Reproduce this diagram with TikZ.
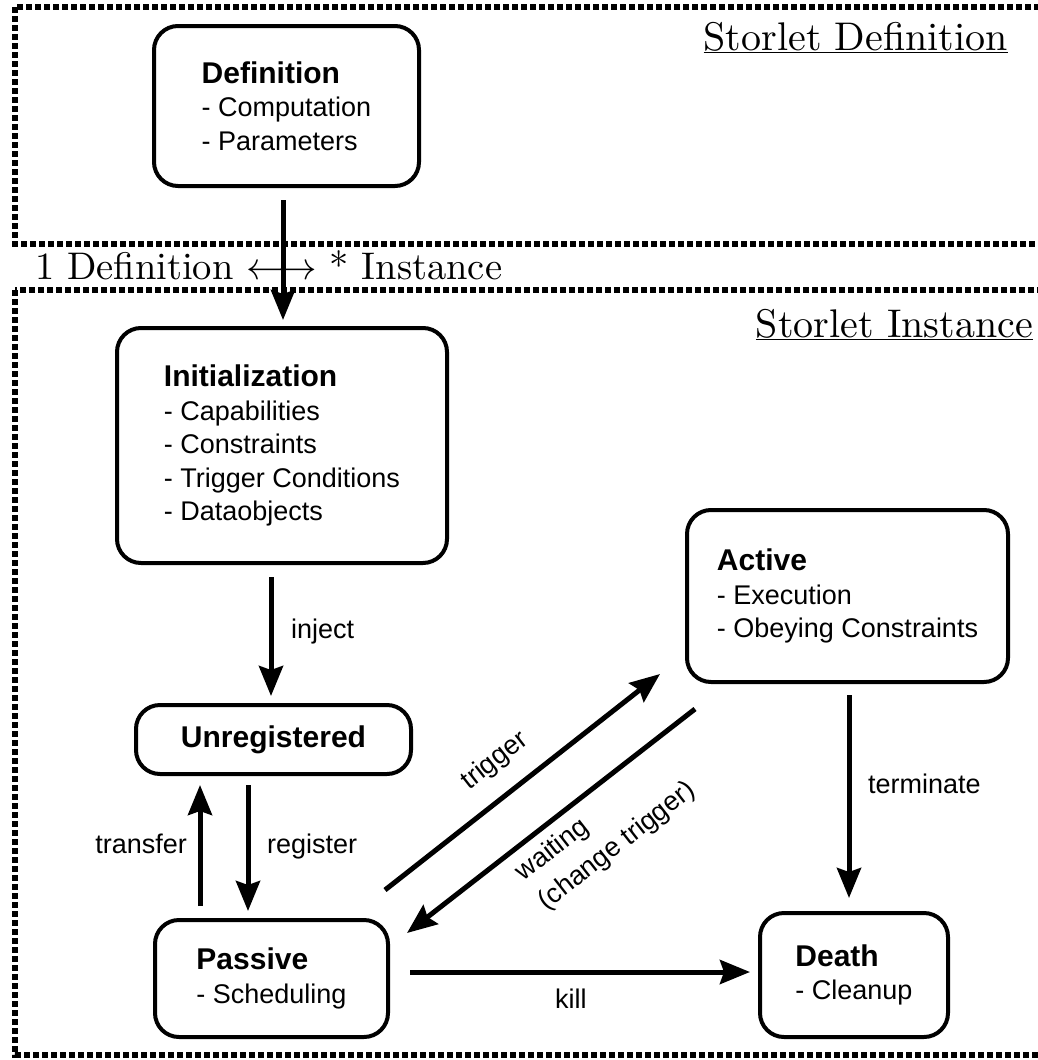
\RequirePackage{fix-cm}
\documentclass[tikz,border=0pt]{standalone}
\usepackage{fontspec}
\newfontfamily\sansf{Liberation Sans}
\newfontfamily\serift{lmroman10-regular}[Extension=.otf]
\usetikzlibrary{arrows.meta,calc}
\newcommand\boxtitle[1]{{\fontsize{30}{34}\selectfont\bfseries #1}}
\begin{document}
\begin{tikzpicture}[x=1pt,y=-1pt,
  box/.style={draw,line width=4pt,rounded corners=24pt,align=left,inner sep=0pt,
    font=\sansf\fontsize{27}{33.5}\selectfont},
  arr/.style={line width=5pt,-{Stealth[length=30pt,width=24pt,inset=4pt]}},
  lbl/.style={font=\sansf\fontsize{27}{33.5}\selectfont,inner sep=0pt},
  frame/.style={line width=5.5pt,dash pattern=on 6pt off 3pt},
  ser/.style={font=\serift\fontsize{40}{48}\selectfont,inner sep=0pt}]
\useasboundingbox (0,0) rectangle (1038,1060);
\clip (0,0) rectangle (1038,1060);
% frames
\draw[frame] (15,7) rectangle (1060,244);
\draw[frame] (15,290) rectangle (1060,1055);
% frame titles
\node[ser,anchor=base east] (sdef) at (1008,50) {\underline{Storlet Definition}};
\node[ser,anchor=base east] (sinst) at (1033,337) {\underline{Storlet Instance}};
\node[ser,anchor=base west,font=\serift\fontsize{38.5}{46}\selectfont] (card) at (35,279)
  {1 Definition $\longleftrightarrow$ * Instance};
% boxes
\node[box,minimum width=265pt,minimum height=160pt] (def) at (286.5,106)
  {\boxtitle{Definition}\\- Computation\\- Parameters};
\node[box,minimum width=330pt,minimum height=235pt] (init) at (282,445.5)
  {\boxtitle{Initialization}\\- Capabilities\\- Constraints\\- Trigger Conditions\\- Dataobjects};
\node[box,minimum width=275pt,minimum height=69pt] (unreg) at (273.5,739.5)
  {\boxtitle{Unregistered}};
\node[box,minimum width=233pt,minimum height=117pt] (passive) at (271.5,978.5)
  {\boxtitle{Passive}\\- Scheduling};
\node[box,minimum width=321pt,minimum height=172pt] (active) at (847.5,596)
  {\boxtitle{Active}\\- Execution\\- Obeying Constraints};
\node[box,minimum width=188pt,minimum height=124pt] (death) at (854,975)
  {\boxtitle{Death}\\- Cleanup};
% edge labels
\node[lbl,anchor=base west] (linject) at (291,638) {inject};
\node[lbl,anchor=base east] (ltransfer) at (187,853) {transfer};
\node[lbl,anchor=base west] (lregister) at (267,853) {register};
\node[lbl,anchor=base west] (lterm) at (868,793) {terminate};
\node[lbl,anchor=base west] (lkill) at (555,1008) {kill};
\node[lbl,rotate=38] (ltrigger) at (495,761) {trigger};
\node[lbl,rotate=38,align=left,font=\sansf\fontsize{27}{37}\selectfont] (lwait) at (606,832)
  {waiting\\(change trigger)};
% arrows
\draw[arr] ($(def.south)+(-3.5,12)$) -- ($(init.north)+(1,-6)$);
\draw[arr] ($(init.south)+(-11,12)$) -- ($(unreg.north)+(-2.5,-7)$);
\draw[arr] ($(unreg.south)+(-25.5,9)$) -- ($(passive.north)+(-23.5,-7)$);
\draw[arr] ($(passive.north)+(-71.5,-12)$) -- ($(unreg.south)+(-73.5,9)$);
\draw[arr] ($(passive.east)+(-5,-88.5)$) -- ($(active.south west)+(-25,-10)$);
\draw[arr] ($(active.south west)+(10,25)$) -- ($(passive.east)+(17,-45.5)$);
\draw[arr] ($(active.south)+(1.5,11)$) -- ($(death.north)+(-5,-13)$);
\draw[arr] ($(passive.east)+(20,-6.5)$) -- ($(death.west)+(-8,-3)$);
\end{tikzpicture}
\end{document}
